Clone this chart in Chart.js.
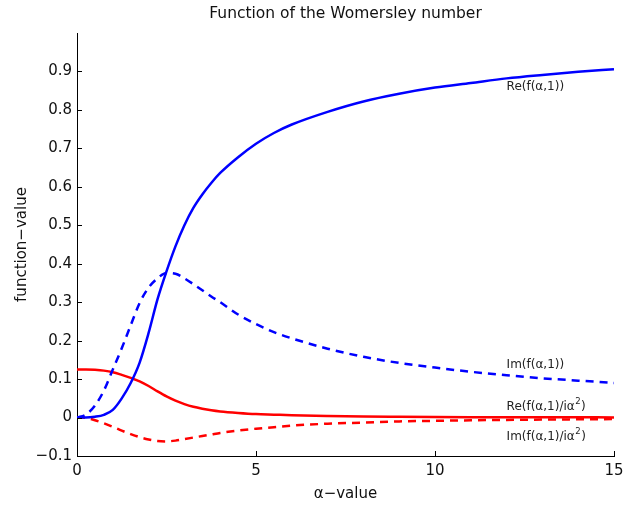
<!DOCTYPE html>
<html>
<head>
<meta charset="utf-8">
<title>Function of the Womersley number</title>
<script src="https://cdn.jsdelivr.net/npm/chart.js@4.4.1/dist/chart.umd.min.js"></script>
<style>
    html, body { margin: 0; padding: 0; background: #fff; }
    #wrap { width: 624px; height: 507px; }
</style>
</head>
<body>
<div id="wrap"><canvas id="womersley" width="624" height="507"></canvas></div>
<script>
// alpha values (x)
const alpha = [0, 0.25, 0.5, 0.75, 1.0, 1.25, 1.5, 1.75, 2.0, 2.25, 2.5, 2.75, 3.0, 3.25, 3.5, 3.75, 4.0, 4.5, 5.0,
    5.5, 6, 7, 8, 9, 10, 11, 12, 13, 14, 15];

// Re(f(a,1)) - solid blue
const reF = [0, 0.000, 0.002, 0.007, 0.02, 0.05, 0.09, 0.143, 0.22, 0.308, 0.38, 0.445, 0.50, 0.545, 0.58, 0.61, 0.636, 0.677, 0.712,
    0.74, 0.762, 0.795, 0.822, 0.842, 0.858, 0.870, 0.882, 0.891, 0.899, 0.906];

// Im(f(a,1)) - dashed blue
const imF = [0, 0.008, 0.031, 0.07, 0.125, 0.18, 0.24, 0.298, 0.338, 0.362, 0.376, 0.374, 0.362, 0.347, 0.331, 0.315, 0.30, 0.268, 0.243,
    0.222, 0.206, 0.179, 0.158, 0.142, 0.130, 0.119, 0.110, 0.102, 0.096, 0.090];

// Re(f(a,1)/ia^2) - solid red
const reG = [0.125, 0.125, 0.124, 0.122, 0.118, 0.111, 0.103, 0.094, 0.082, 0.068, 0.055, 0.044, 0.035, 0.028, 0.023, 0.019, 0.016, 0.012, 0.009,
    0.0075, 0.006, 0.004, 0.0025, 0.0018, 0.0013, 0.001, 0.0008, 0.0006, 0.0005, 0.0004];

// Im(f(a,1)/ia^2) - dashed red
const imG = [0, -0.001, -0.007, -0.015, -0.024, -0.034, -0.043, -0.051, -0.057, -0.061, -0.062, -0.060, -0.056, -0.052, -0.048, -0.044, -0.040, -0.034, -0.029,
    -0.025, -0.021, -0.016, -0.013, -0.010, -0.0086, -0.0072, -0.0061, -0.0053, -0.0046, -0.004];

const xTicks = [0, 5, 10, 15];
const yTicks = [-0.1, 0, 0.1, 0.2, 0.3, 0.4, 0.5, 0.6, 0.7, 0.8, 0.9];

// curve labels: text, superscript, tail, anchored in data units
const curveLabels = [
    { text: 'Re(f(α,1))', sup: '', tail: '', x: 12, y: 0.860 },
    { text: 'Im(f(α,1))', sup: '', tail: '', x: 12, y: 0.136 },
    { text: 'Re(f(α,1)/iα', sup: '2', tail: ')', x: 12, y: 0.029 },
    { text: 'Im(f(α,1)/iα', sup: '2', tail: ')', x: 12, y: -0.051 }
];

const FONT = '"DejaVu Sans", "Liberation Sans", Arial, sans-serif';

function pairs(ys) {
    return alpha.map((a, i) => ({ x: a, y: ys[i] }));
}

function fmtY(v) {
    if (Math.abs(v) < 1e-9) return '0';
    const s = Math.abs(v).toFixed(1);
    return v < 0 ? '\u2212' + s : s;
}

// title centred over the plot area
const titlePlugin = {
    id: 'plotTitle',
    afterDraw(chart) {
        const ctx = chart.ctx;
        const area = chart.chartArea;
        ctx.save();
        ctx.font = '15.5px ' + FONT;
        ctx.fillStyle = '#111';
        ctx.textAlign = 'center';
        ctx.textBaseline = 'middle';
        ctx.fillText('Function of the Womersley number', (area.left + area.right) / 2, 14);
        ctx.restore();
    }
};

// MATLAB style ticks pointing into the plot
const innerTicks = {
    id: 'innerTicks',
    afterDraw(chart) {
        const ctx = chart.ctx;
        const area = chart.chartArea;
        const xs = chart.scales.x, ys = chart.scales.y;
        ctx.save();
        ctx.strokeStyle = '#000';
        ctx.lineWidth = 1;
        ctx.beginPath();
        xTicks.forEach(v => {
            const px = Math.round(xs.getPixelForValue(v)) + 0.5;
            ctx.moveTo(px, area.bottom);
            ctx.lineTo(px, area.bottom - 5);
        });
        yTicks.forEach(v => {
            const py = Math.round(ys.getPixelForValue(v)) + 0.5;
            ctx.moveTo(area.left, py);
            ctx.lineTo(area.left + 5, py);
        });
        ctx.stroke();
        ctx.restore();
    }
};

// text next to each curve
const curveText = {
    id: 'curveText',
    afterDatasetsDraw(chart) {
        const ctx = chart.ctx;
        const xs = chart.scales.x, ys = chart.scales.y;
        ctx.save();
        ctx.fillStyle = '#222';
        ctx.textBaseline = 'middle';
        ctx.textAlign = 'left';
        curveLabels.forEach(l => {
            let px = xs.getPixelForValue(l.x);
            const py = ys.getPixelForValue(l.y);
            ctx.font = '12px ' + FONT;
            ctx.fillText(l.text, px, py);
            px += ctx.measureText(l.text).width;
            if (l.sup) {
                ctx.font = '8.5px ' + FONT;
                ctx.fillText(l.sup, px + 0.5, py - 5);
                px += ctx.measureText(l.sup).width + 1;
                ctx.font = '12px ' + FONT;
                ctx.fillText(l.tail, px, py);
            }
        });
        ctx.restore();
    }
};

const ctx = document.getElementById('womersley').getContext('2d');
const chart = new Chart(ctx, {
    type: 'line',
    data: {
        datasets: [
            { label: 'Re(f(α,1))', data: pairs(reF), borderColor: '#0000ff', borderWidth: 2.5 },
            { label: 'Im(f(α,1))', data: pairs(imF), borderColor: '#0000ff', borderWidth: 2.5, borderDash: [8, 6] },
            { label: 'Re(f(α,1)/iα²)', data: pairs(reG), borderColor: '#ff0000', borderWidth: 2.5 },
            { label: 'Im(f(α,1)/iα²)', data: pairs(imG), borderColor: '#ff0000', borderWidth: 2.5, borderDash: [8, 6] }
        ]
    },
    options: {
        responsive: false,
        animation: false,
        devicePixelRatio: 1,
        layout: { padding: { top: 33, right: 10, left: 0, bottom: 0 } },
        elements: {
            point: { radius: 0 },
            line: { cubicInterpolationMode: 'monotone', fill: false }
        },
        plugins: {
            legend: { display: false },
            tooltip: { enabled: false }
        },
        scales: {
            x: {
                type: 'linear',
                min: 0,
                max: 15,
                afterBuildTicks: s => { s.ticks = xTicks.map(v => ({ value: v })); },
                afterFit: s => { s.height = 51; s.paddingLeft = 0; s.paddingRight = 0; },
                grid: { display: false, drawTicks: false },
                border: { display: true, color: '#000', width: 1 },
                ticks: {
                    padding: 6,
                    maxRotation: 0,
                    autoSkip: false,
                    color: '#111',
                    font: { family: FONT, size: 15 },
                    callback: v => String(v)
                },
                title: {
                    display: true,
                    text: 'α\u2212value',
                    color: '#111',
                    font: { family: FONT, size: 15 },
                    padding: { top: 0, bottom: 4 }
                }
            },
            y: {
                type: 'linear',
                min: -0.1,
                max: 1.0,
                afterBuildTicks: s => { s.ticks = yTicks.map(v => ({ value: v })); },
                afterFit: s => { s.width = 77; s.paddingTop = 0; s.paddingBottom = 0; },
                grid: { display: false, drawTicks: false },
                border: { display: true, color: '#000', width: 1 },
                ticks: {
                    padding: 5,
                    autoSkip: false,
                    color: '#111',
                    font: { family: FONT, size: 15 },
                    callback: v => fmtY(v)
                },
                title: {
                    display: true,
                    text: 'function\u2212value',
                    color: '#111',
                    font: { family: FONT, size: 15 },
                    padding: { top: 13, bottom: 0 }
                }
            }
        }
    },
    plugins: [titlePlugin, innerTicks, curveText]
});
</script>
</body>
</html>
